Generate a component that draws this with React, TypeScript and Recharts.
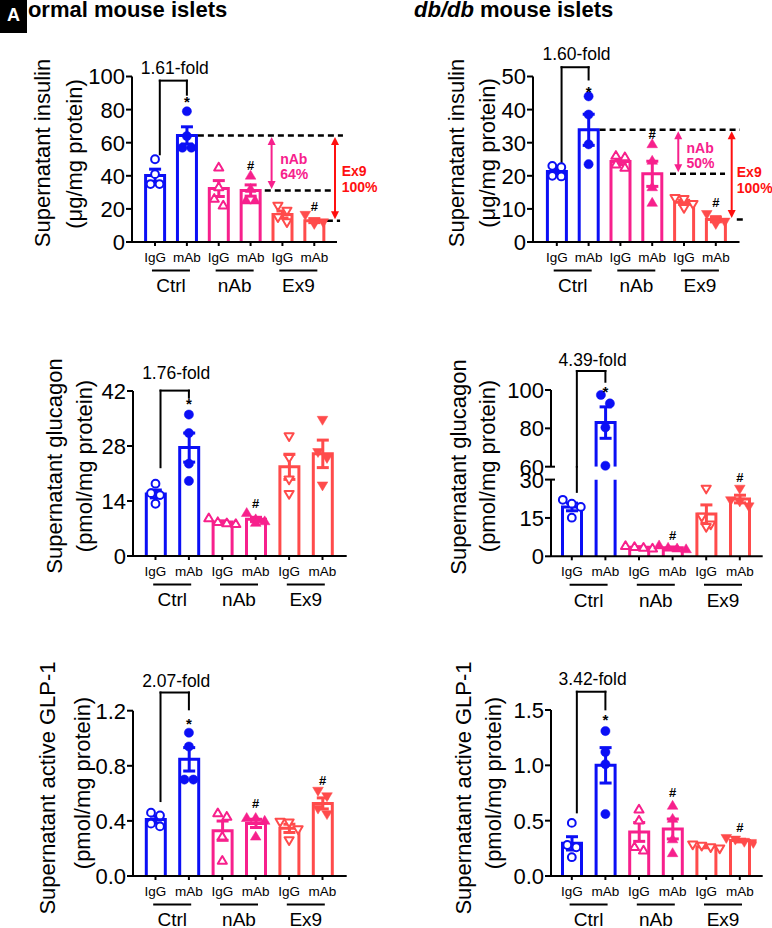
import React from "react";
import { ComposedChart, Bar, ErrorBar, XAxis, YAxis, Scatter, ReferenceLine, ReferenceDot } from "recharts";

const FONT = '"Liberation Sans", Arial, Helvetica, sans-serif';
const BLUE = "#0b0ff5";
const PINK = "#f7208c";
const SALMON = "#ff4b4b";
const RED = "#ff1010";
const groupColors = [BLUE, PINK, SALMON];

const groups = ["Ctrl", "nAb", "Ex9"];
const treatments = ["IgG", "mAb"];
const categories = groups.flatMap((g) => treatments.map((t) => `${g}-${t}`));

// normal mouse islets, insulin (ug/mg protein)
const insNormMean = [40.2, 64.4, 32.3, 31.1, 16.6, 12.9];
const insNormSem = [3.8, 5.2, 4.8, 3.4, 2.1, 1.2];
const insNormPts = [[50, 41, 35, 35], [79, 64, 57, 57], [45, 33, 26, 22], [40, 32, 25, 25], [22, 19, 15, 12], [16.5, 12.5, 12, 11]];
// db/db insulin
const insDbMean = [21.3, 33.9, 24.3, 20.6, 12.0, 6.8];
const insDbSem = [0.9, 4.7, 0.9, 3.8, 0.6, 0.7];
const insDbPts = [[23, 22.6, 20, 19.8], [44, 38.5, 29.5, 23.5], [26, 25.6, 23.4, 22.4], [29.5, 24.5, 16.5, 11.8], [13.3, 13, 11.5, 10.3], [8.5, 7, 6.2, 5.5]];
// normal glucagon (pmol/mg protein)
const glcNormMean = [15.8, 27.6, 8.65, 9.35, 22.7, 26.0];
const glcNormSem = [1.0, 3.7, 0.3, 0.5, 3.2, 3.5];
const glcNormPts = [[18.4, 16, 15.5, 13.3], [36, 31.3, 23.5, 19.1], [9.6, 8.6, 8.3, 8.1], [10.9, 9.3, 8.8, 8.4], [30.5, 25, 19.5, 15.8], [34.7, 26.5, 25, 18]];
// db/db glucagon
const glcDbMean = [19.3, 83.0, 3.5, 3.3, 16.5, 22.4];
const glcDbSem = [1.5, 8.2, 0.25, 0.35, 3.6, 1.5];
const glcDbPts = [[22.1, 20.6, 19.3, 15.1], [97.4, 93, 80.5, 60.5], [4.0, 3.6, 3.3, 3.0], [4.2, 3.3, 3.0, 2.7], [26.5, 15.5, 12.5, 11.5], [26.5, 22, 21.5, 19.6]];
// normal active GLP-1
const glpNormMean = [0.41, 0.847, 0.329, 0.382, 0.346, 0.527];
const glpNormSem = [0.025, 0.085, 0.07, 0.03, 0.03, 0.04];
const glpNormPts = [[0.46, 0.44, 0.38, 0.36], [1.04, 0.94, 0.7, 0.7], [0.455, 0.43, 0.285, 0.11], [0.42, 0.42, 0.4, 0.285], [0.395, 0.39, 0.34, 0.26], [0.62, 0.58, 0.49, 0.45]];
// db/db active GLP-1
const glpDbMean = [0.295, 1.0, 0.398, 0.425, 0.265, 0.32];
const glpDbSem = [0.06, 0.16, 0.085, 0.09, 0.01, 0.012];
const glpDbPts = [[0.48, 0.28, 0.26, 0.17], [1.31, 1.12, 1.01, 0.56], [0.6, 0.5, 0.26, 0.23], [0.633, 0.515, 0.33, 0.205], [0.285, 0.275, 0.26, 0.25], [0.345, 0.33, 0.31, 0.3]];

const ticksInsNorm = [0, 20, 40, 60, 80, 100];
const ticksInsDb = [0, 10, 20, 30, 40, 50];
const ticksGlcNorm = [0, 14, 28, 42];
const ticksGlcDbUpper = [60, 80, 100];
const ticksGlcDbLower = [0, 15, 30];
const ticksGlpNorm = [0, 0.4, 0.8, 1.2];
const ticksGlpDb = [0, 0.5, 1.0, 1.5];

const foldLabels = ["1.61-fold", "1.60-fold", "1.76-fold", "4.39-fold", "2.07-fold", "3.42-fold"];
// bracket: top, left leg end, right leg end
const bracketInsNorm = [97.5, 53, 89];
const bracketInsDb = [52.8, 23.9, 49.1];
const bracketGlcNorm = [42.1, 22.6, 40.3];
const bracketGlcDb = [109.9, 25.2, 104.3];
const bracketGlpNorm = [1.332, 0.544, 1.21];
const bracketGlpDb = [1.665, 0.575, 1.506];
// * over Ctrl mAb, # over nAb mAb and Ex9 mAb
const starY = [86.3, 46.2, 39.6, 100.9, 1.128, 1.44];
const hashInsNorm = [46.5, 21.6];
const hashInsDb = [32.5, 11.8];
const hashGlcNorm = [13.3];
const hashGlcDb = [8.1, 31.0];
const hashGlpNorm = [0.527, 0.697];
const hashGlpDb = [0.753, 0.44];
const inhibInsNorm = ["64%", "100%"];
const inhibInsDb = ["50%", "100%"];

type Geo = { left: number; top: number; width: number; height: number; axisX: number; plotRight: number; plotTop: number; plotBottom: number; padL: number; padR: number };

const geoA: Geo = { left: 0, top: 0, width: 386, height: 310, axisX: 132, plotRight: 337, plotTop: 76.5, plotBottom: 242, padL: 7.1, padR: 6.8 };
const geoB: Geo = { left: 386, top: 0, width: 386, height: 310, axisX: 533, plotRight: 739.5, plotTop: 76.5, plotBottom: 242, padL: 7.9, padR: 7.8 };
const geoC: Geo = { left: 0, top: 310, width: 386, height: 310, axisX: 133, plotRight: 346.7, plotTop: 391, plotBottom: 556, padL: 5.8, padR: 7.5 };
const geoDu: Geo = { left: 386, top: 310, width: 386, height: 156.7, axisX: 551, plotRight: 762.7, plotTop: 390, plotBottom: 466.7, padL: 4, padR: 6.1 };
const geoDl: Geo = { left: 386, top: 466.7, width: 386, height: 153.3, axisX: 551, plotRight: 762.7, plotTop: 479.3, plotBottom: 556, padL: 4, padR: 6.1 };
const geoE: Geo = { left: 0, top: 620, width: 386, height: 308, axisX: 133, plotRight: 346.7, plotTop: 710.7, plotBottom: 876, padL: 5.8, padR: 7.5 };
const geoF: Geo = { left: 386, top: 620, width: 386, height: 308, axisX: 551, plotRight: 762.7, plotTop: 710, plotBottom: 876, padL: 4, padR: 6.1 };

const AX = { stroke: "#000", strokeWidth: 2 };
const BAR = 22;
const bandOf = (g: Geo) => (g.plotRight - g.axisX - g.padL - g.padR) / 6;
const ppuOf = (g: Geo, d: number[]) => (g.plotBottom - g.plotTop) / (d[1] - d[0]);

// spread tied points sideways, like a scatter dot plot
function swarm(vals: number[], ppu: number, band: number) {
  const s = [...vals].sort((a, b) => b - a);
  const out: { v: number; dx: number }[] = [];
  let i = 0;
  while (i < s.length) {
    let j = i + 1;
    while (j < s.length && (s[i] - s[j]) * ppu < 8.5) j++;
    const n = j - i;
    for (let q = 0; q < n; q++) out.push({ v: s[i + q], dx: ((q - (n - 1) / 2) * 9) / band });
    i = j;
  }
  return out;
}

// outline bar, open at the bottom (and at the top when it runs past a broken axis)
const barShape = (q: number) => (p: any) => {
  if (p.height == null || !p.width || Math.abs(p.height) < 0.01) return null;
  const color = groupColors[q];
  const sw = 3;
  const x0 = p.x + sw / 2;
  const x1 = p.x + p.width - sw / 2;
  const yb = p.y + p.height;
  const open = p.payload && p.payload[`o${q}`];
  const d = open ? `M${x0},${yb} L${x0},${p.y} M${x1},${p.y} L${x1},${yb}` : `M${x0},${yb} L${x0},${p.y} L${x1},${p.y} L${x1},${yb}`;
  return (
    <g>
      <rect x={x0} y={p.y} width={x1 - x0} height={p.height} fill="#fff" />
      <path d={d} fill="none" stroke={color} strokeWidth={sw} strokeLinejoin="miter" />
    </g>
  );
};

function Marker(props: any) {
  const { cx, cy, payload } = props;
  if (cx == null || cy == null) return null;
  const k = payload.k;
  const kind = Math.floor(k / 2);
  const color = groupColors[kind];
  const filled = k % 2 === 1;
  const fill = filled ? color : "#fff";
  const sw = filled ? 0.5 : 2;
  if (kind === 0) return <circle cx={cx} cy={cy} r={filled ? 4.6 : 3.9} fill={fill} stroke={color} strokeWidth={sw} />;
  const s = filled ? 5.6 : 4.8;
  const dir = kind === 1 ? 1 : -1;
  const pts = `${cx},${cy - dir * s} ${cx - s * 0.95},${cy + dir * s * 0.6} ${cx + s * 0.95},${cy + dir * s * 0.6}`;
  return <polygon points={pts} fill={fill} stroke={color} strokeWidth={sw} strokeLinejoin="round" />;
}

function XTick(props: any) {
  const { x, y, payload, band } = props;
  const [grp, trt] = String(payload.value).split("-");
  return (
    <g>
      <text x={x} y={y + 15.5} textAnchor="middle" fontFamily={FONT} fontSize={13.5} fill="#000">{trt}</text>
      {trt === "IgG" && (
        <g>
          <line x1={x + band / 2 - 19} x2={x + band / 2 + 19} y1={y + 24.5} y2={y + 24.5} stroke="#000" strokeWidth={2} />
          <text x={x + band / 2} y={y + 46.3} textAnchor="middle" fontFamily={FONT} fontSize={19} fill="#000">{grp}</text>
        </g>
      )}
    </g>
  );
}

function YTick(props: any) {
  const { x, y, payload, fmt, capTick } = props;
  const v = payload.value;
  return (
    <g>
      <text x={x} y={y} dy="0.36em" textAnchor="end" fontFamily={FONT} fontSize={22} fill="#000">{fmt(v)}</text>
      {capTick === v && <line x1={x + 7} x2={x + 11} y1={y} y2={y} stroke="#000" strokeWidth={2} />}
    </g>
  );
}

const seg = (key: string, x1: number, y1: number, x2: number, y2: number, extra: any = {}) => (
  <ReferenceLine key={key} xAxisId="pts" segment={[{ x: x1, y: y1 }, { x: x2, y: y2 }]} stroke="#000" strokeWidth={2} strokeLinecap="square" ifOverflow="visible" {...extra} />
);

const dash = (key: string, x1: number, x2: number, y: number) =>
  seg(key, x1, y, x2, y, { strokeDasharray: "6 4", strokeWidth: 2.5, strokeLinecap: "butt" });

const arrowShape = (color: string) => (p: any) => {
  const top = Math.min(p.y1, p.y2) + 1.5;
  const bot = Math.max(p.y1, p.y2) - 1.5;
  const x = p.x1;
  const h = 8;
  const w = 4;
  return (
    <g>
      <line x1={x} x2={x} y1={top + h - 1} y2={bot - h + 1} stroke={color} strokeWidth={2} />
      <polygon points={`${x},${top} ${x - w},${top + h} ${x + w},${top + h}`} fill={color} />
      <polygon points={`${x},${bot} ${x - w},${bot - h} ${x + w},${bot - h}`} fill={color} />
    </g>
  );
};

const arrow = (key: string, x: number, y1: number, y2: number, color: string) =>
  <ReferenceLine key={key} xAxisId="pts" segment={[{ x, y: y1 }, { x, y: y2 }]} ifOverflow="visible" shape={arrowShape(color)} />;

type TextOpt = { size: number; color?: string; bold?: boolean; anchor?: string; dy?: number; lh?: number; shift?: number };
const textAt = (key: string, x: number, y: number, lines: string[], o: TextOpt) => (
  <ReferenceDot
    key={key}
    xAxisId="pts"
    x={x}
    y={y}
    r={1}
    ifOverflow="visible"
    shape={(p: any) => (
      <text textAnchor={o.anchor ?? "middle"} fontFamily={FONT} fontSize={o.size} fontWeight={o.bold ? 700 : 400} fill={o.color ?? "#000"}>
        {lines.map((l, i) => (
          <tspan key={i} x={p.cx} y={p.cy + (o.dy ?? 0) + (i - (lines.length - 1) / 2) * (o.lh ?? o.size) + (o.shift ?? 0.35) * o.size}>{l}</tspan>
        ))}
      </text>
    )}
  />
);

const star = (y: number) => textAt("star", 1.5, y, ["*"], { size: 15, bold: true, shift: 0.55 });
const hash = (key: string, x: number, y: number) => textAt(key, x, y, ["#"], { size: 13, bold: true });

function bracket(b: number[], label: string, off: number, leftStop?: number) {
  return [
    seg("bl", 0.65, b[0], 0.65, leftStop ?? b[1]),
    seg("bt", 0.65, b[0], 1.5, b[0]),
    seg("br", 1.5, b[0], 1.5, b[2]),
    textAt("bf", 1.12, b[0], [label], { size: 17.5, dy: -off }),
  ];
}

type PanelProps = {
  geo: Geo;
  yDomain: number[];
  ticks: number[];
  fmt: (v: number) => string;
  mean: (number | null)[];
  sem: (number | null)[];
  pts: number[][];
  hideX?: boolean;
  capTick?: number;
  extras: React.ReactNode[];
};

function Panel({ geo, yDomain, ticks, fmt, mean, sem, pts, hideX, capTick, extras }: PanelProps) {
  const XH = hideX ? 0 : 50;
  const YW = 70;
  const margin = {
    top: geo.plotTop - geo.top,
    right: geo.left + geo.width - geo.plotRight,
    bottom: geo.top + geo.height - geo.plotBottom - XH,
    left: geo.axisX - geo.left - YW,
  };
  const band = bandOf(geo);
  const ppu = ppuOf(geo, yDomain);
  const rows = categories.map((cat, i) => {
    const g = Math.floor(i / 2);
    const r: any = { cat };
    groups.forEach((_, q) => {
      r[`m${q}`] = q === g ? mean[i] : null;
      r[`e${q}`] = q === g ? sem[i] : null;
      r[`o${q}`] = q === g && mean[i] != null && (mean[i] as number) > yDomain[1];
    });
    return r;
  });
  const points = pts.flatMap((vals, k) =>
    swarm(vals.filter((v) => v >= yDomain[0] && v <= yDomain[1]), ppu, band).map((p) => ({ x: k + 0.5 + p.dx, y: p.v, k }))
  );
  return (
    <div style={{ position: "absolute", left: geo.left, top: geo.top }}>
      <ComposedChart width={geo.width} height={geo.height} data={rows} margin={margin}>
        <XAxis
          dataKey="cat"
          type="category"
          hide={hideX}
          height={XH || 30}
          padding={{ left: geo.padL, right: geo.padR }}
          interval={0}
          tickSize={4}
          tickMargin={0}
          axisLine={AX}
          tickLine={AX}
          tick={(p: any) => <XTick {...p} band={band} />}
        />
        <XAxis xAxisId="pts" dataKey="x" type="number" domain={[0, 6]} hide allowDataOverflow padding={{ left: geo.padL, right: geo.padR }} />
        <YAxis
          domain={yDomain}
          ticks={ticks}
          interval={0}
          allowDataOverflow
          width={YW}
          tickSize={6}
          tickMargin={1}
          axisLine={AX}
          tickLine={AX}
          tick={(p: any) => <YTick {...p} fmt={fmt} capTick={capTick} />}
        />
        <YAxis yAxisId="py" domain={yDomain} hide />
        {groups.map((g, q) => (
          <Bar key={g} dataKey={`m${q}`} stackId="s" barSize={BAR} shape={barShape(q)} isAnimationActive={false}>
            <ErrorBar dataKey={`e${q}`} width={6} strokeWidth={3} stroke={groupColors[q]} direction="y" />
          </Bar>
        ))}
        <Scatter xAxisId="pts" yAxisId="py" data={points} dataKey="y" shape={Marker} isAnimationActive={false} />
        {extras}
      </ComposedChart>
    </div>
  );
}

const intFmt = (v: number) => String(v);
const oneFmt = (v: number) => v.toFixed(1);

function AxisTitle({ x, y, text }: { x: number; y: number; text: string }) {
  return (
    <div style={{ position: "absolute", left: x, top: y, transform: "translate(-50%, -50%) rotate(-90deg)", whiteSpace: "nowrap", fontSize: 22, lineHeight: "22px", fontFamily: FONT, color: "#000" }}>
      {text}
    </div>
  );
}

export default function App() {
  const hbA = BAR / 2 / bandOf(geoA);
  const hbB = BAR / 2 / bandOf(geoB);
  const upperD = [60, 100];
  const lowerD = [0, 30];
  const gapLower = (geoDl.plotTop - geoDu.plotBottom) / ppuOf(geoDl, lowerD);

  const extrasA = [
    ...bracket(bracketInsNorm, foldLabels[0], 13),
    star(starY[0]),
    hash("h1", 3.5, hashInsNorm[0]),
    hash("h2", 5.5, hashInsNorm[1]),
    dash("d1", 1.5 + hbA, 6.4, insNormMean[1]),
    dash("d2", 3.5 + hbA + 0.1, 6.05, insNormMean[3]),
    dash("d3", 5.5 + hbA + 0.05, 6.31, insNormMean[5]),
    arrow("a1", 4.16, insNormMean[1], insNormMean[3], PINK),
    arrow("a2", 6.15, insNormMean[1], insNormMean[5], RED),
    textAt("t1", 4.43, 45.5, ["nAb", inhibInsNorm[0]], { size: 14, bold: true, color: PINK, anchor: "start", lh: 15 }),
    textAt("t2", 6.36, 38.1, ["Ex9", inhibInsNorm[1]], { size: 14, bold: true, color: RED, anchor: "start", lh: 16.5 }),
  ];
  const extrasB = [
    ...bracket(bracketInsDb, foldLabels[1], 13),
    star(starY[1]),
    hash("h1", 3.5, hashInsDb[0]),
    hash("h2", 5.5, hashInsDb[1]),
    dash("d1", 1.5 + hbB, 6.26, insDbMean[1]),
    dash("d2", 4.06, 5.79, insDbMean[3]),
    dash("d3", 6.16, 6.42, insDbMean[5]),
    arrow("a1", 4.32, insDbMean[1], insDbMean[3], PINK),
    arrow("a2", 6.0, insDbMean[1], insDbMean[5], RED),
    textAt("t1", 4.58, 26.0, ["nAb", inhibInsDb[0]], { size: 14, bold: true, color: PINK, anchor: "start", lh: 15 }),
    textAt("t2", 6.16, 18.7, ["Ex9", inhibInsDb[1]], { size: 14, bold: true, color: RED, anchor: "start", lh: 16.5 }),
  ];
  const extrasC = [...bracket(bracketGlcNorm, foldLabels[2], 18), star(starY[2]), hash("h1", 3.5, hashGlcNorm[0])];
  const extrasDu = [...bracket(bracketGlcDb, foldLabels[3], 11, upperD[0]), star(starY[3])];
  const extrasDl = [
    seg("bl2", 0.65, lowerD[1] + gapLower, 0.65, bracketGlcDb[1]),
    hash("h1", 3.5, hashGlcDb[0]),
    hash("h2", 5.5, hashGlcDb[1]),
  ];
  const extrasE = [...bracket(bracketGlpNorm, foldLabels[4], 12), star(starY[4]), hash("h1", 3.5, hashGlpNorm[0]), hash("h2", 5.5, hashGlpNorm[1])];
  const extrasF = [...bracket(bracketGlpDb, foldLabels[5], 13), star(starY[5]), hash("h1", 3.5, hashGlpDb[0]), hash("h2", 5.5, hashGlpDb[1])];

  const upperMean = glcDbMean.map((m) => (m >= upperD[0] ? m : null));
  const upperSem = glcDbSem.map((s, i) => (glcDbMean[i] >= upperD[0] ? s : null));
  const lowerSem = glcDbSem.map((s, i) => (glcDbMean[i] <= lowerD[1] ? s : null));

  return (
    <div style={{ position: "absolute", left: 0, top: 0, width: 772, height: 928, background: "#fff", overflow: "hidden", fontFamily: FONT }}>
      <style>{`.recharts-surface{overflow:visible}`}</style>
      <div style={{ position: "absolute", left: 12, top: 0, fontSize: 22, lineHeight: "20px", fontWeight: 700, whiteSpace: "nowrap" }}>Normal mouse islets</div>
      <div style={{ position: "absolute", left: 0, top: 0, width: 27, height: 33, background: "#000", color: "#fff", fontSize: 18, fontWeight: 700, textAlign: "center", lineHeight: "30px" }}>A</div>
      <div style={{ position: "absolute", left: 414, top: 0, fontSize: 22, lineHeight: "20px", fontWeight: 700, whiteSpace: "nowrap" }}>
        <i>db/db</i> mouse islets
      </div>

      <AxisTitle x={43} y={153} text="Supernatant insulin" />
      <AxisTitle x={75} y={154} text="(μg/mg protein)" />
      <AxisTitle x={457} y={153} text="Supernatant insulin" />
      <AxisTitle x={488} y={153} text="(μg/mg protein)" />
      <AxisTitle x={54.5} y={466} text="Supernatant glucagon" />
      <AxisTitle x={85} y={466} text="(pmol/mg protein)" />
      <AxisTitle x={459} y={467} text="Supernatant glucagon" />
      <AxisTitle x={488} y={466} text="(pmol/mg protein)" />
      <AxisTitle x={48} y={788} text="Supernatant active GLP-1" />
      <AxisTitle x={83} y={783} text="(pmol/mg protein)" />
      <AxisTitle x={464} y={788} text="Supernatant active GLP-1" />
      <AxisTitle x={494} y={783} text="(pmol/mg protein)" />

      <Panel geo={geoA} yDomain={[0, 100]} ticks={ticksInsNorm} fmt={intFmt} mean={insNormMean} sem={insNormSem} pts={insNormPts} extras={extrasA} />
      <Panel geo={geoB} yDomain={[0, 50]} ticks={ticksInsDb} fmt={intFmt} mean={insDbMean} sem={insDbSem} pts={insDbPts} extras={extrasB} />
      <Panel geo={geoC} yDomain={[0, 42]} ticks={ticksGlcNorm} fmt={intFmt} mean={glcNormMean} sem={glcNormSem} pts={glcNormPts} extras={extrasC} />
      <Panel geo={geoDu} yDomain={upperD} ticks={ticksGlcDbUpper} fmt={intFmt} mean={upperMean} sem={upperSem} pts={glcDbPts} hideX capTick={upperD[0]} extras={extrasDu} />
      <Panel geo={geoDl} yDomain={lowerD} ticks={ticksGlcDbLower} fmt={intFmt} mean={glcDbMean} sem={lowerSem} pts={glcDbPts} capTick={lowerD[1]} extras={extrasDl} />
      <Panel geo={geoE} yDomain={[0, 1.2]} ticks={ticksGlpNorm} fmt={oneFmt} mean={glpNormMean} sem={glpNormSem} pts={glpNormPts} extras={extrasE} />
      <Panel geo={geoF} yDomain={[0, 1.5]} ticks={ticksGlpDb} fmt={oneFmt} mean={glpDbMean} sem={glpDbSem} pts={glpDbPts} extras={extrasF} />
    </div>
  );
}
